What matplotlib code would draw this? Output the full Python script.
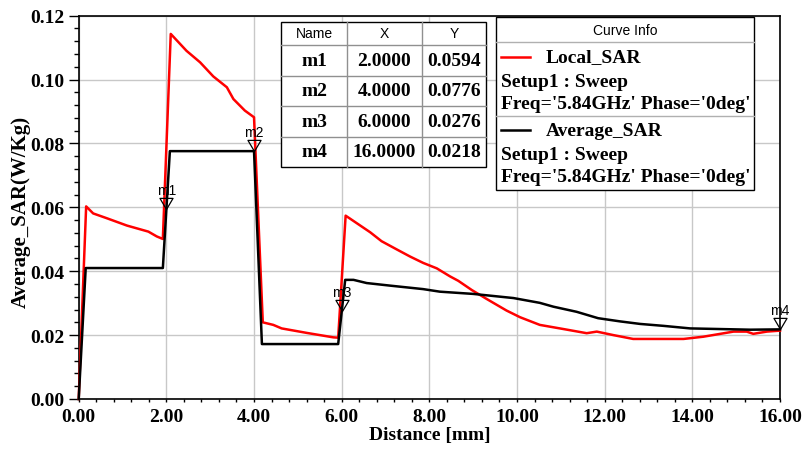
import matplotlib
matplotlib.use("Agg")
import matplotlib.pyplot as plt
from matplotlib.path import Path
from matplotlib.patches import Rectangle
from matplotlib.lines import Line2D

# ---------------- data ----------------
local_x = [0, 0.17, 0.33, 0.64, 1.10, 1.59, 1.78, 1.92, 2.10, 2.46, 2.77, 3.07, 3.38, 3.53,
           3.79, 4.0, 4.2, 4.44, 4.63, 5.2, 5.81, 5.92, 6.09, 6.65, 6.91, 7.26, 7.56, 7.86,
           8.17, 8.47, 8.66, 8.97, 9.31, 9.76, 10.07, 10.52, 11.06, 11.59, 11.82, 12.2,
           12.65, 13.8, 14.25, 14.94, 15.24, 15.39, 15.7, 16.0]
local_y = [0, 0.0603, 0.0581, 0.0566, 0.0543, 0.0524, 0.0509, 0.0501, 0.1143, 0.1090,
           0.1054, 0.1010, 0.0976, 0.0939, 0.0903, 0.0882, 0.0240, 0.0232, 0.0221, 0.0207,
           0.0193, 0.0192, 0.0574, 0.0522, 0.0494, 0.0468, 0.0446, 0.0426, 0.0409, 0.0384,
           0.0370, 0.0341, 0.0313, 0.0277, 0.0256, 0.0232, 0.0219, 0.0206, 0.0211, 0.0200,
           0.0188, 0.0188, 0.0195, 0.0211, 0.0211, 0.0204, 0.0211, 0.0214]

avg_x = [0, 0.16, 1.92, 2.08, 4.0, 4.18, 5.92, 6.08, 6.27, 6.57, 7.1, 7.86, 8.24, 9.0,
         9.92, 10.52, 10.83, 11.36, 11.85, 12.35, 12.81, 13.34, 13.95, 15.32, 16.0]
avg_y = [0, 0.0410, 0.0410, 0.0776, 0.0776, 0.0172, 0.0172, 0.0373, 0.0373, 0.0363,
         0.0355, 0.0344, 0.0336, 0.0329, 0.0316, 0.0301, 0.0289, 0.0273, 0.0253, 0.0243,
         0.0235, 0.0229, 0.0221, 0.0217, 0.0218]

marker_names = ["m1", "m2", "m3", "m4"]
marker_x = [2.0, 4.0, 6.0, 16.0]
marker_y = [0.0594, 0.0776, 0.0276, 0.0218]

x_ticks = [0, 2, 4, 6, 8, 10, 12, 14, 16]
y_ticks = [0.00, 0.02, 0.04, 0.06, 0.08, 0.10, 0.12]

curve_names = ["Local_SAR", "Average_SAR"]
curve_colors = ["#ff0000", "#000000"]
curve_info = ["Setup1 : Sweep", "Freq='5.84GHz' Phase='0deg'"]

# ---------------- figure ----------------
W, H = 802, 452
fig = plt.figure(figsize=(W / 100, H / 100), dpi=100)
ax = fig.add_axes([78.7 / W, 1 - 400 / H, (780 - 78.7) / W, (400 - 16.7) / H])

SERIF = "Liberation Serif"
SANS = "Liberation Sans"

ax.plot(local_x, local_y, color=curve_colors[0], lw=1.8, zorder=3, clip_on=False)
ax.plot(avg_x, avg_y, color=curve_colors[1], lw=1.8, zorder=4, clip_on=False)

# marker triangles (tip at the data point)
tri = Path([(-1, 1.7), (1, 1.7), (0, 0), (-1, 1.7)],
           [Path.MOVETO, Path.LINETO, Path.LINETO, Path.CLOSEPOLY])
ax.plot(marker_x, marker_y, linestyle="none", marker=tri, markersize=16,
        markerfacecolor="none", markeredgecolor="black", markeredgewidth=0.9,
        zorder=6, clip_on=False)
for n, mx, my in zip(marker_names, marker_x, marker_y):
    ax.annotate(n, (mx, my), xytext=(0, 12), textcoords="offset pixels",
                ha="center", va="bottom", fontsize=10, family=SANS, zorder=7,
                annotation_clip=False)

ax.set_xlim(0, 16)
ax.set_ylim(0, 0.12)
ax.set_xticks(x_ticks)
ax.set_xticklabels([f"{v:.2f}" for v in x_ticks])
ax.set_yticks(y_ticks)
ax.set_yticklabels([f"{v:.2f}" for v in y_ticks])
ax.set_xticks([i * 0.4 for i in range(41)], minor=True)
ax.set_yticks([i * 0.004 for i in range(31)], minor=True)

for lab in ax.get_xticklabels() + ax.get_yticklabels():
    lab.set_family(SERIF)
    lab.set_fontweight("bold")
    lab.set_fontsize(14)

ax.tick_params(axis="y", which="major", direction="out", length=7, width=1, pad=3)
ax.tick_params(axis="y", which="minor", direction="out", length=3.5, width=1)
ax.tick_params(axis="x", which="both", direction="out", length=2.5, width=1, pad=4)

ax.grid(True, which="major", color="#c8c8c8", lw=1, zorder=0)
ax.set_axisbelow(True)
for s in ax.spines.values():
    s.set_color("black")
    s.set_linewidth(1.2)

ax.set_xlabel("Distance [mm]", family=SERIF, fontweight="bold", fontsize=14, labelpad=1)
ax.set_ylabel("Average_SAR(W/Kg)", family=SERIF, fontweight="bold", fontsize=15, va="center")
ax.yaxis.set_label_coords(-0.0823, 0.49)


# ---------------- helpers in pixel coords ----------------
def fx(px):
    return px / W


def fy(py):
    return 1 - py / H


def box(x0, y0, x1, y1, ec="black", lw=1.0, fc="white", z=10):
    fig.add_artist(Rectangle((fx(x0), fy(y1)), fx(x1) - fx(x0), fy(y0) - fy(y1),
                             transform=fig.transFigure, fc=fc, ec=ec, lw=lw, zorder=z))


def hline(x0, x1, y, color="#909090", lw=1.0, z=11):
    fig.add_artist(Line2D([fx(x0), fx(x1)], [fy(y), fy(y)], transform=fig.transFigure,
                          color=color, lw=lw, zorder=z))


def vline(x, y0, y1, color="#909090", lw=1.0, z=11):
    fig.add_artist(Line2D([fx(x), fx(x)], [fy(y0), fy(y1)], transform=fig.transFigure,
                          color=color, lw=lw, zorder=z))


def text(px, py, s, **kw):
    fig.text(fx(px), fy(py), s, zorder=12, **kw)


# ---------------- marker table ----------------
tl, tr, tt = 281, 486, 22.5
cols = [281, 347, 422, 486]
hdr_b = 46.4
row_h = 30.4
rows = [hdr_b + i * row_h for i in range(len(marker_names) + 1)]
tb = rows[-1]
box(tl, tt, tr, tb, ec="black", lw=1.0)
hline(tl, tr, hdr_b)
for r in rows[1:-1]:
    hline(tl, tr, r)
for c in cols[1:-1]:
    vline(c, tt, tb)
headers = ["Name", "X", "Y"]
for i, h in enumerate(headers):
    text((cols[i] + cols[i + 1]) / 2, (tt + hdr_b) / 2, h, ha="center", va="center",
         family=SANS, fontsize=10)
for j, (n, mx, my) in enumerate(zip(marker_names, marker_x, marker_y)):
    cy = (rows[j] + rows[j + 1]) / 2
    vals = [n, f"{mx:.4f}", f"{my:.4f}"]
    for i, v in enumerate(vals):
        text((cols[i] + cols[i + 1]) / 2, cy, v, ha="center", va="center",
             family=SERIF, fontweight="bold", fontsize=14)

# ---------------- curve info legend ----------------
ll, lr, lt, lb = 496, 754, 18.4, 191.4
title_b = 42.7
entry_sep = 117.2
box(ll, lt, lr, lb, ec="black", lw=1.0)
hline(ll, lr, title_b, color="#b0b0b0")
hline(ll, lr, entry_sep, color="#b0b0b0")
text((ll + lr) / 2, (lt + title_b) / 2, "Curve Info", ha="center", va="center",
     family=SANS, fontsize=10)
entry_tops = [57.9, 131.4]
for k in range(2):
    y0 = entry_tops[k]
    fig.add_artist(Line2D([fx(501), fx(530)], [fy(y0), fy(y0)], transform=fig.transFigure,
                          color=curve_colors[k], lw=1.8, zorder=12))
    text(546, y0, curve_names[k], ha="left", va="center", family=SERIF,
         fontweight="bold", fontsize=14)
    text(501, y0 + 24.6, curve_info[0], ha="left", va="center", family=SERIF,
         fontweight="bold", fontsize=14)
    text(501, y0 + 46.5, curve_info[1], ha="left", va="center", family=SERIF,
         fontweight="bold", fontsize=14)

fig.savefig("out.png", dpi=100)
